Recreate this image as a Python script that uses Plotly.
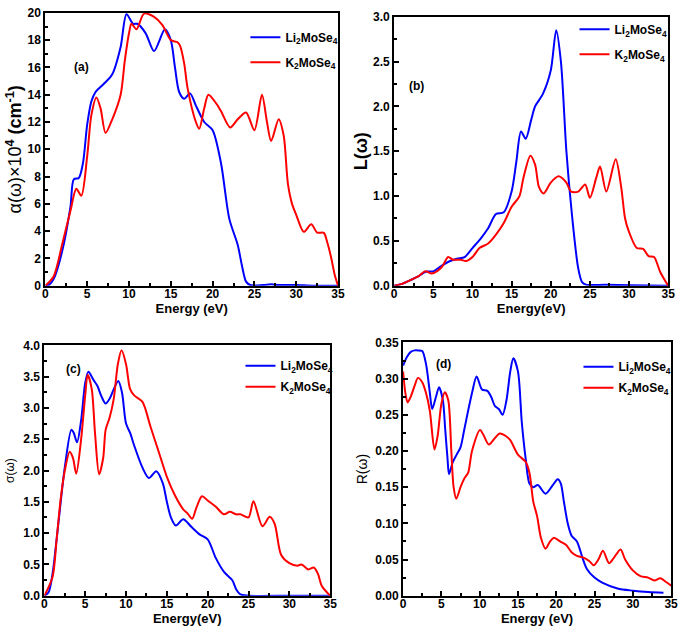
import plotly.graph_objects as go

# ---------------- data ----------------
# (a) absorption alpha(w) x 10^4 (cm^-1)
a_li_x = [0, 0.5, 1, 2, 3, 3.4, 4, 4.5, 5, 5.5, 6, 7, 8, 9, 9.7, 10.5, 11, 12, 13, 14.3, 15, 15.5, 16, 16.6, 17.3, 18, 19, 20, 21, 22, 23, 23.5, 24, 24.5, 26, 27, 28, 30, 32, 35]
a_li_y = [0, 0.1, 0.5, 2.5, 5.8, 7.8, 7.9, 9.0, 11.8, 13.5, 14.2, 14.8, 15.5, 17.5, 19.9, 19.2, 19.2, 18.5, 17.2, 18.8, 18.0, 16.0, 14.2, 13.7, 14.1, 13.2, 12.0, 11.4, 9.0, 4.9, 3.0, 1.5, 0.3, 0.05, 0.05, 0.1, 0.05, 0.05, 0.0, 0.0]
a_k_x = [0, 1, 2, 3, 3.7, 4.3, 5, 5.5, 6.1, 6.6, 7.2, 8, 9, 9.5, 10, 10.3, 10.9, 11.8, 13, 14, 15, 15.8, 16.1, 16.6, 17, 18, 18.4, 19, 19.5, 20.5, 21, 22.1, 23, 24, 25, 25.9, 26.5, 27, 27.9, 28.5, 29, 29.5, 30, 30.9, 31.8, 32.5, 33.3, 33.7, 34.2, 34.6, 35]
a_k_y = [0, 0.7, 3.0, 5.5, 7.1, 6.6, 9.5, 12.5, 13.8, 13.0, 11.2, 12.2, 14.0, 16.5, 18.5, 19.2, 18.8, 19.95, 19.7, 19.1, 18.0, 17.85, 17.6, 16.3, 14.5, 12.0, 11.5, 13.0, 14.0, 13.3, 12.8, 11.6, 12.2, 12.7, 11.4, 14.0, 12.0, 10.6, 12.2, 11.0, 7.5, 6.0, 5.2, 3.95, 4.5, 3.9, 3.87, 3.2, 2.0, 0.8, 0.0]

# (b) energy loss L(w)
b_li_x = [0, 1, 2, 3, 4, 5, 6, 7, 8, 9, 10, 11, 12, 13, 14, 15, 15.6, 16.2, 16.8, 17.5, 18, 19, 20, 20.7, 21.3, 22, 22.7, 23.5, 24, 24.5, 27, 30, 35]
b_li_y = [0, 0.02, 0.06, 0.1, 0.155, 0.16, 0.22, 0.27, 0.30, 0.32, 0.42, 0.52, 0.64, 0.80, 0.82, 1.05, 1.38, 1.72, 1.64, 1.85, 2.0, 2.14, 2.4, 2.85, 2.5, 1.5, 0.8, 0.2, 0.04, 0.012, 0.01, 0.005, 0.0]
b_k_x = [0, 1, 2, 3, 4, 4.8, 6, 6.9, 7.5, 8.5, 9.2, 10, 10.9, 12, 13, 14, 15, 16, 16.5, 17.4, 18, 18.5, 19.1, 20, 21, 22, 22.6, 23.5, 24.4, 25, 25.8, 26.3, 27.1, 28.3, 29, 29.5, 30, 31, 31.8, 32.5, 33.2, 34, 35]
b_k_y = [0, 0.02, 0.06, 0.1, 0.16, 0.135, 0.2, 0.32, 0.29, 0.29, 0.275, 0.32, 0.42, 0.47, 0.57, 0.70, 0.88, 1.0, 1.2, 1.45, 1.35, 1.1, 1.03, 1.15, 1.22, 1.15, 1.05, 1.05, 1.13, 0.98, 1.2, 1.33, 1.05, 1.41, 1.1, 0.75, 0.6, 0.42, 0.41, 0.33, 0.32, 0.15, 0.0]

# (c) optical conductivity sigma(w)
c_li_x = [0, 0.5, 1, 1.5, 2, 2.5, 3.3, 3.6, 4, 4.5, 5, 5.4, 6, 6.5, 7, 7.5, 8, 8.5, 9.05, 9.5, 10, 10.5, 11, 12, 12.8, 13.7, 14.5, 15, 15.5, 16.1, 17, 18, 19, 20, 21, 22, 23, 23.5, 24, 25, 30, 35]
c_li_y = [0, 0.05, 0.35, 0.9, 1.5, 2.05, 2.65, 2.6, 2.45, 2.8, 3.4, 3.58, 3.45, 3.35, 3.18, 3.07, 3.15, 3.3, 3.43, 3.25, 2.75, 2.6, 2.4, 2.05, 1.88, 1.99, 1.8, 1.5, 1.25, 1.12, 1.22, 1.1, 0.98, 0.9, 0.6, 0.38, 0.25, 0.1, 0.02, 0.0, 0.0, 0.0]
c_k_x = [0, 1, 1.5, 2, 2.5, 3.1, 3.5, 3.9, 4.5, 5, 5.3, 5.8, 6.2, 6.7, 7.2, 7.5, 8, 8.5, 9, 9.45, 10, 10.5, 11, 12, 13, 14, 15, 16, 17, 17.5, 18.1, 18.6, 19.3, 20, 21, 22, 22.7, 23.5, 24, 25, 25.6, 26.7, 27.6, 28.2, 29, 30, 31, 31.5, 32.3, 33, 33.5, 34, 35]
c_k_y = [0, 0.3, 0.9, 1.55, 2.0, 2.3, 2.2, 1.95, 2.5, 3.2, 3.53, 3.3, 2.6, 1.94, 2.2, 2.65, 2.85, 3.15, 3.7, 3.92, 3.7, 3.3, 3.2, 3.1, 2.7, 2.3, 1.9, 1.6, 1.38, 1.32, 1.23, 1.4, 1.59, 1.52, 1.42, 1.3, 1.34, 1.3, 1.3, 1.25, 1.51, 1.11, 1.26, 1.15, 0.65, 0.52, 0.48, 0.5, 0.42, 0.45, 0.35, 0.15, 0.0]

# (d) reflectivity R(w)
d_li_x = [0, 0.5, 1, 1.5, 2, 2.5, 3, 3.5, 3.8, 4.3, 4.7, 5.2, 5.5, 5.8, 6.0, 6.5, 7, 7.5, 8, 9, 9.6, 10.3, 11, 11.5, 12, 12.5, 13, 13.5, 14, 14.4, 15, 15.5, 16, 16.5, 17, 17.6, 18.6, 19.5, 20.2, 20.6, 21, 21.5, 22, 22.7, 23.5, 24, 25, 26, 28, 30, 32, 34]
d_li_y = [0.318, 0.33, 0.337, 0.339, 0.339, 0.338, 0.32, 0.28, 0.258, 0.275, 0.288, 0.27, 0.23, 0.19, 0.168, 0.185, 0.195, 0.205, 0.23, 0.28, 0.303, 0.285, 0.283, 0.275, 0.262, 0.258, 0.25, 0.27, 0.31, 0.328, 0.31, 0.24, 0.19, 0.155, 0.15, 0.153, 0.141, 0.152, 0.161, 0.155, 0.13, 0.1, 0.083, 0.075, 0.05, 0.037, 0.025, 0.018, 0.01, 0.007, 0.005, 0.004]
d_k_x = [0, 0.3, 0.6, 1, 1.5, 1.95, 2.5, 3, 3.5, 4.1, 4.5, 5, 5.45, 5.9, 6.3, 6.6, 6.95, 7.5, 8, 8.5, 9, 10.05, 10.5, 11.2, 12, 12.6, 13.5, 14, 15, 16, 16.5, 17, 17.5, 18, 18.6, 19.2, 19.7, 20.5, 21.3, 22, 22.7, 23.5, 24.3, 24.9, 25.5, 26.1, 26.9, 27.5, 28.4, 29, 30, 31, 32, 32.8, 33.6, 34.2, 35]
d_k_y = [0.31, 0.28, 0.267, 0.275, 0.29, 0.301, 0.295, 0.28, 0.255, 0.202, 0.22, 0.265, 0.281, 0.27, 0.2, 0.15, 0.134, 0.15, 0.162, 0.17, 0.2, 0.229, 0.222, 0.209, 0.218, 0.224, 0.22, 0.215, 0.195, 0.185, 0.17, 0.13, 0.11, 0.08, 0.065, 0.075, 0.08, 0.075, 0.07, 0.06, 0.055, 0.053, 0.048, 0.042, 0.05, 0.062, 0.045, 0.052, 0.064, 0.05, 0.035, 0.027, 0.025, 0.021, 0.024, 0.02, 0.014]

series_names = ["Li<sub>2</sub>MoSe<sub>4</sub>", "K<sub>2</sub>MoSe<sub>4</sub>"]
panel_labels = ["(a)", "(b)", "(c)", "(d)"]
x_titles = ["Energy (eV)", "Energy(eV)", "Energy(eV)", "Energy (eV)"]
y_titles = ["α(ω)×10<sup><b>4</b></sup><b> (cm<sup>-1</sup>)</b>", "<b>L(ω)</b>", "σ(ω)", "R(ω)"]
y_ranges = [[0, 20], [0, 3.0], [0, 4.0], [0, 0.35]]
y_dticks = [2, 0.5, 0.5, 0.05]
y_formats = ["d", ".1f", ".1f", ".2f"]

# ---------------- layout geometry ----------------
W, H = 685, 634
boxes = [  # (x0, x1, y0, y1) pixels
    (43, 340, 6, 285),
    (397, 675, 10, 285),
    (42, 332, 346, 602),
    (406, 678, 343, 602),
]
legend_pos = [(246, 16), (580, 8), (241, 352), (584, 353)]
legend_gap = [6, 6, 2, 2]
label_pos = [(70, 52), (420, 72), (62, 370), (447, 365)]
y_title_size = [18, 18, 12, 14]
y_title_standoff = [1, 1, 6, 4]

BLUE = "#0000ff"
RED = "#ff0000"
FONT = "Liberation Sans, Arial, sans-serif"

data = [
    (a_li_x, a_li_y, a_k_x, a_k_y),
    (b_li_x, b_li_y, b_k_x, b_k_y),
    (c_li_x, c_li_y, c_k_x, c_k_y),
    (d_li_x, d_li_y, d_k_x, d_k_y),
]

fig = go.Figure()
layout = dict(
    width=W, height=H,
    margin=dict(l=0, r=0, t=0, b=0),
    paper_bgcolor="white", plot_bgcolor="white",
    font=dict(family=FONT, size=12, color="black", weight="bold"),
    annotations=[],
)

for i, (lx, ly, kx, ky) in enumerate(data):
    n = "" if i == 0 else str(i + 1)
    xa, ya = "x" + n, "y" + n
    leg = "legend" + n
    fig.add_trace(go.Scatter(x=lx, y=ly, mode="lines", name=series_names[0],
                             line=dict(color=BLUE, width=2, shape="spline", smoothing=0.8),
                             xaxis=xa, yaxis=ya, legend=leg, legendgroup="li" + n))
    fig.add_trace(go.Scatter(x=kx, y=ky, mode="lines", name=series_names[1],
                             line=dict(color=RED, width=2, shape="spline", smoothing=0.8),
                             xaxis=xa, yaxis=ya, legend=leg, legendgroup="k" + n))
    x0, x1, y0, y1 = boxes[i]
    common = dict(showline=True, linewidth=2, linecolor="black", mirror=True,
                  ticks="inside", ticklen=5, tickwidth=2, tickcolor="black",
                  showgrid=False, zeroline=False,
                  tickfont=dict(size=12, family=FONT, weight="bold"))
    layout["xaxis" + n] = dict(
        domain=[x0 / W, x1 / W], anchor=ya, range=[0, 35], dtick=5, tick0=0,
        ticklabelstandoff=-4,
        minor=dict(dtick=2.5, ticks="inside", ticklen=3, tickwidth=2, tickcolor="black"),
        title=dict(text=x_titles[i], font=dict(size=13, weight="bold"), standoff=0),
        **common)
    yr = y_ranges[i]
    layout["yaxis" + n] = dict(
        domain=[1 - y1 / H, 1 - y0 / H], anchor=xa, range=yr, dtick=y_dticks[i], tick0=0,
        tickformat=y_formats[i],
        minor=dict(dtick=y_dticks[i] / 2, ticks="inside", ticklen=3, tickwidth=2, tickcolor="black"),
        title=dict(text=y_titles[i],
                   font=dict(size=y_title_size[i], weight="normal"),
                   standoff=y_title_standoff[i]),
        **common)
    lxp, lyp = legend_pos[i]
    layout[leg] = dict(x=lxp / W, y=1 - lyp / H, xanchor="left", yanchor="top",
                       bgcolor="rgba(0,0,0,0)", borderwidth=0, tracegroupgap=legend_gap[i],
                       font=dict(size=12, family=FONT, weight="bold"))
    px, py = label_pos[i]
    layout["annotations"].append(dict(
        text=panel_labels[i], x=px / W, y=1 - py / H, xref="paper", yref="paper",
        showarrow=False, font=dict(size=12, weight="bold")))

fig.update_layout(**layout)
fig.write_html("out.html", config={"displayModeBar": False},
               post_script="document.body.style.margin='0';")
